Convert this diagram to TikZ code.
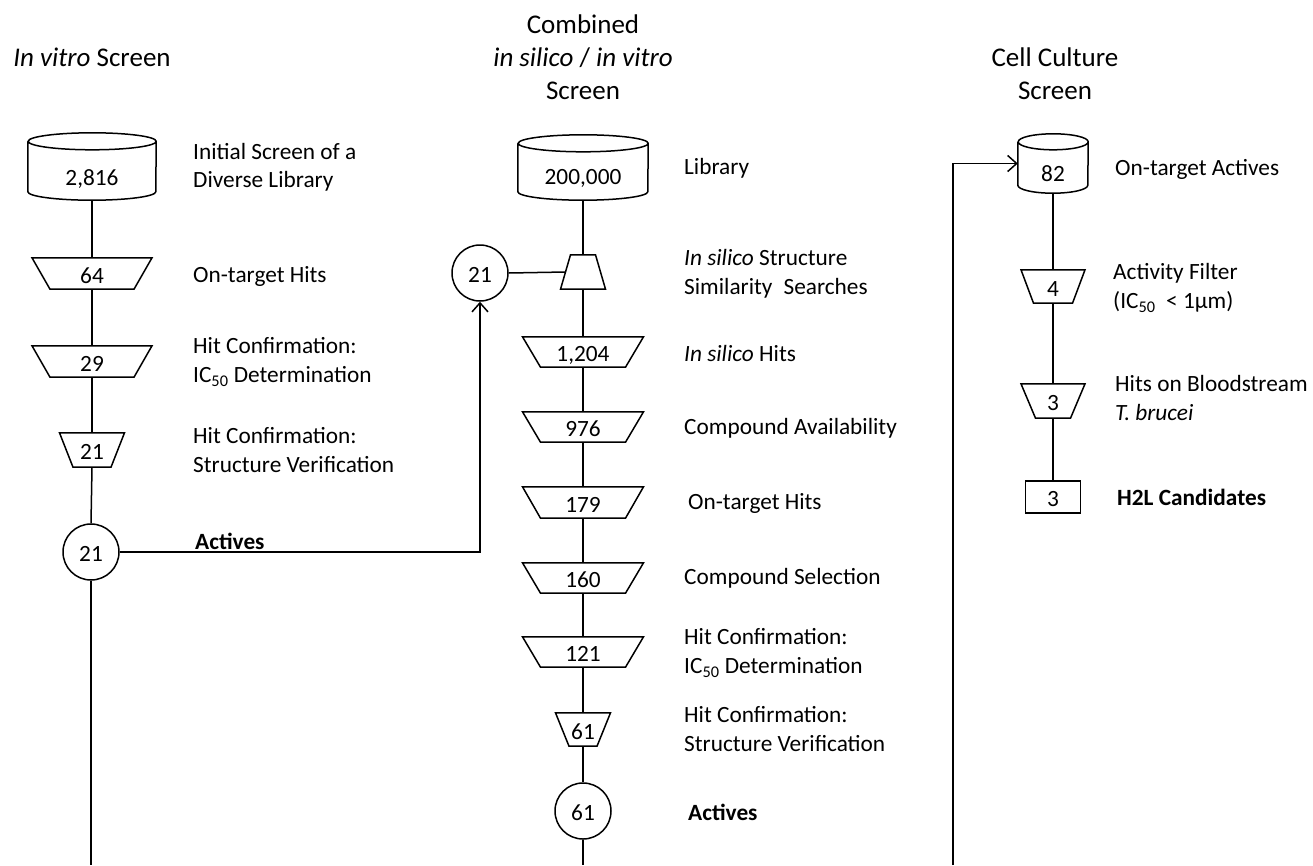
\documentclass[tikz,border=0pt]{standalone}
\usepackage{fontspec}
\setmainfont{Carlito}
\usetikzlibrary{calc,arrows.meta}
\newcommand\trapnode[7]{% name, cx, cy, topw, botw, h, text
  \node[inner sep=0, text height=19pt, text depth=0pt, minimum width={max(#4,#5)*1pt}, minimum height={#6*1pt}] (#1) at (#2,-#3) {#7};
  \draw[ln] ($(#1.north)+({-#4/2},0)$) -- ($(#1.north)+({#4/2},0)$) -- ($(#1.south)+({#5/2},0)$) -- ($(#1.south)+({-#5/2},0)$) -- cycle;
}
\newcommand\cylnode[8]{% name, cx, top, bottom, halfw, ry, text, texty
  \node[inner sep=0, minimum width={2*#5*1pt}, minimum height={(#4-#3)*1pt}] (#1) at (#2,{-(#3+#4)/2}) {};
  \draw[ln] ([yshift=-#6pt]#1.north west) -- ([yshift=#6pt]#1.south west) arc[start angle=180,end angle=360,x radius=#5pt,y radius=#6pt] -- ([yshift=-#6pt]#1.north east) arc[start angle=0,end angle=360,x radius=#5pt,y radius=#6pt];
  \node[inner sep=0, text height=19pt, text depth=0pt] (#1t) at (#2,-#8) {#7};
}
\begin{document}
\begin{tikzpicture}[x=1pt,y=1pt,
  every node/.style={font=\fontsize{23.3}{28.5}\selectfont},
  lbl/.style={anchor=west, align=left, inner sep=0},
  ttl/.style={align=center, inner sep=0, font=\fontsize{27}{33}\selectfont},
  circ/.style={draw, circle, minimum size=56pt, inner sep=0, line width=1.5pt, text height=19pt, text depth=0pt},
  ln/.style={line width=1.5pt},
  arr/.style={ln, -{Straight Barb[length=9pt,width=16pt,line width=1.5pt]}},
]
\useasboundingbox (0,0) rectangle (1313,-865);

% titles
\node[ttl] (title1) at (92,-57) {\textit{In vitro} Screen};
\node[ttl] (title2) at (583,-57) {Combined\\\textit{in silico} / \textit{in vitro}\\Screen};
\node[ttl] (title3) at (1055,-73.5) {Cell Culture\\Screen};

% column 1
\cylnode{cyl1}{92}{133}{200}{64}{8.5}{2,816}{176}
\trapnode{t64}{92}{273.5}{120}{84}{31}{64}
\trapnode{t29}{92}{361.5}{120}{84}{31}{29}
\trapnode{t21}{92}{450}{65}{38}{34}{21}
\node[circ] (c1) at (91,-552) {21};
\coordinate (end1) at (91,-865);

\node[lbl] (l1a) at (193,-167.5) {Initial Screen of a\\Diverse Library};
\node[lbl] (l1b) at (193,-276) {On-target Hits};
\node[lbl] (l1c) at (193,-362) {Hit Confirmation:\\IC\textsubscript{50} Determination};
\node[lbl] (l1d) at (193,-450) {Hit Confirmation:\\Structure Verification};
\node[lbl, font=\fontsize{23.3}{28.5}\selectfont\bfseries] (l1e) at (195,-541) {Actives};

\draw[ln] (cyl1.south) -- (t64.north);
\draw[ln] (t64.south) -- (t29.north);
\draw[ln] (t29.south) -- (t21.north);
\draw[ln] (t21.south) -- (c1.north);
\draw[ln] (c1.south) -- (end1);

% column 2
\cylnode{cyl2}{583}{135}{200}{65}{8.5}{200,000}{175}
\trapnode{ts}{583}{272}{25}{45}{34}{}
\node[circ] (c2) at (480,-273) {21};
\trapnode{t1204}{583}{352}{121}{85}{30}{1,204}
\trapnode{t976}{583}{427}{121}{85}{30}{976}
\trapnode{t179}{583}{502.5}{121}{85}{31}{179}
\trapnode{t160}{583}{578}{121}{85}{30}{160}
\trapnode{t121}{583}{652}{121}{85}{30}{121}
\trapnode{t61}{583}{729.5}{55}{28}{33}{61}
\node[circ] (c61) at (583,-811) {61};
\coordinate (end2) at (583,-865);

\node[lbl] (l2a) at (684,-168) {Library};
\node[lbl] (l2b) at (684,-274) {\textit{In silico} Structure\\Similarity\hspace{0.25em} Searches};
\node[lbl] (l2c) at (684,-353) {\textit{In silico} Hits};
\node[lbl] (l2d) at (684,-428) {Compound Availability};
\node[lbl] (l2e) at (688,-503) {On-target Hits};
\node[lbl] (l2f) at (684,-578) {Compound Selection};
\node[lbl] (l2g) at (684,-653) {Hit Confirmation:\\IC\textsubscript{50} Determination};
\node[lbl] (l2h) at (684,-729) {Hit Confirmation:\\Structure Verification};
\node[lbl, font=\fontsize{23.3}{28.5}\selectfont\bfseries] (l2i) at (688,-812) {Actives};

\draw[ln] (cyl2.south) -- (ts.north);
\draw[ln] (c2.east) -- ($(ts.center)+(-17.5,0)$);
\draw[ln] (ts.south) -- (t1204.north);
\draw[ln] (t1204.south) -- (t976.north);
\draw[ln] (t976.south) -- (t179.north);
\draw[ln] (t179.south) -- (t160.north);
\draw[ln] (t160.south) -- (t121.north);
\draw[ln] (t121.south) -- (t61.north);
\draw[ln] (t61.south) -- (c61.north);
\draw[ln] (c61.south) -- (end2);

\draw[arr] (c1.east) -| (c2.south);

% column 3
\cylnode{cyl3}{1053}{134}{193}{35}{8}{82}{172}
\trapnode{t4}{1053}{286.5}{64}{39}{33}{4}
\trapnode{t3}{1053}{401}{64}{35}{34}{3}
\node[draw, line width=1.5pt, inner sep=0, text height=19pt, text depth=0pt, minimum width=55pt, minimum height=32pt] (box) at (1053,-497) {3};
\coordinate (end3) at (953,-865);

\node[lbl] (l3a) at (1115,-169) {On-target Actives};
\node[lbl] (l3b) at (1113,-288) {Activity Filter\\(IC\textsubscript{50}\ \ < 1µm)};
\node[lbl] (l3c) at (1115,-398) {Hits on Bloodstream\\\textit{T. brucei}};
\node[lbl, font=\fontsize{23.3}{28.5}\selectfont\bfseries] (l3d) at (1117,-497) {H2L Candidates};

\draw[ln] (cyl3.south) -- (t4.north);
\draw[ln] (t4.south) -- (t3.north);
\draw[ln] (t3.south) -- (box.north);
\draw[arr] (end3) |- (cyl3.west);
\end{tikzpicture}
\end{document}
